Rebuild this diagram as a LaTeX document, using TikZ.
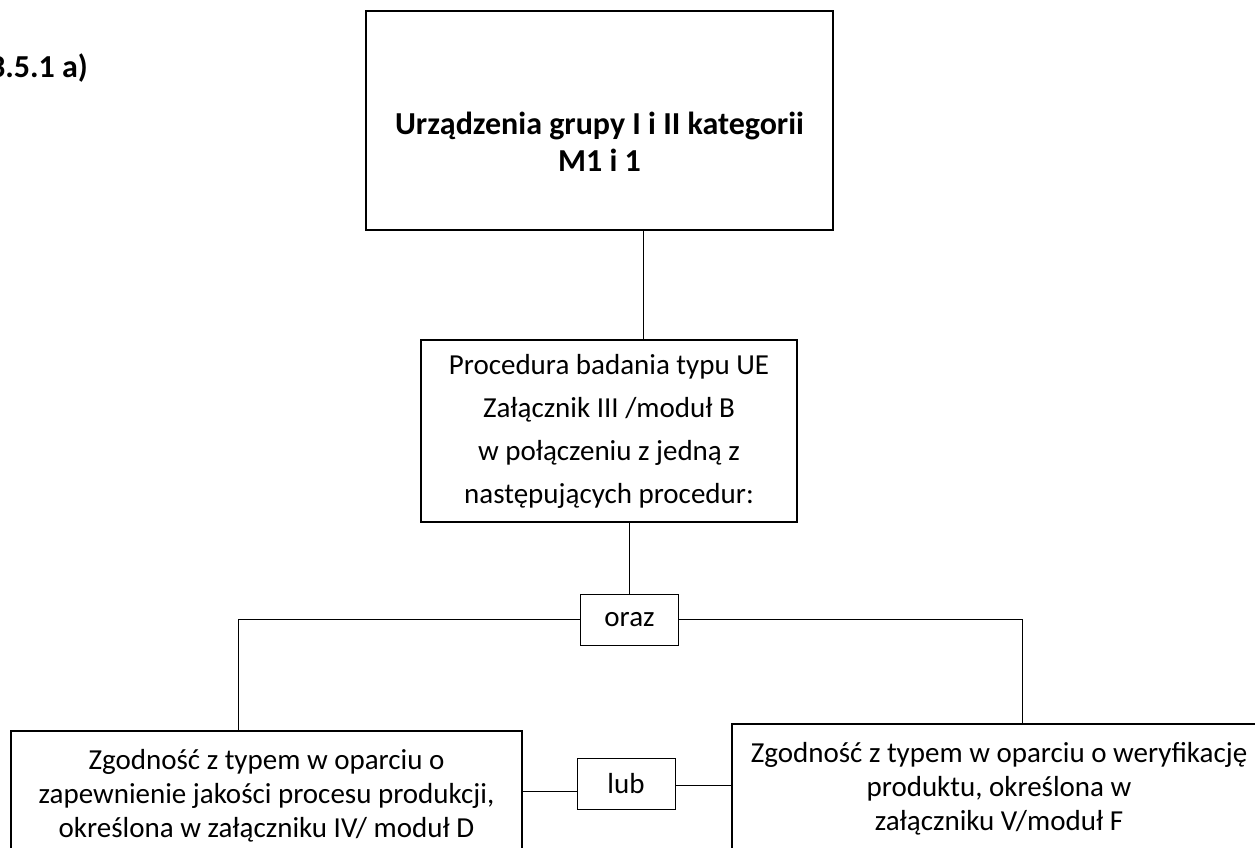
\documentclass[tikz,border=0pt]{standalone}
\usepackage{fontspec}
\setmainfont{Carlito}
\usetikzlibrary{positioning}

\tikzset{
  heavybox/.style={draw, line width=2pt, inner sep=0pt},
  plainbox/.style={draw, line width=1.4pt, inner sep=0pt},
  smallbox/.style={draw, line width=1pt, inner sep=0pt, minimum width=98, minimum height=51},
  link/.style={line width=1pt},
  boldtext/.style={font=\fontsize{32}{37}\selectfont\bfseries, align=center, inner sep=0pt},
  bodytext/.style={font=\fontsize{29}{34}\selectfont, align=center},
}

\begin{document}
\begin{tikzpicture}[x=1pt, y=-1pt]
        \useasboundingbox (0,0) rectangle (1255,848);

        \node[boldtext, anchor=base east] (section) at (88,78) {3.5.1 a)};

        \node[heavybox, minimum width=467, minimum height=219] (devices) at (599.5,120.5) {};
        \node[boldtext] (devicestext) at (599.5,142) {Urządzenia grupy I i II kategorii\\M1 i 1};

        \node[plainbox, minimum width=376, minimum height=182, font=\fontsize{29}{43}\selectfont, align=center]
            (procedure) at (609,431) {Procedura badania typu UE\\Załącznik III /moduł B\\w połączeniu z jedną z\\następujących procedur:};

        \node[smallbox, bodytext] (oraz) at (629.5,619.5) {oraz};
        \node[smallbox, bodytext] (lub) at (626,783.5) {lub};

        \node[heavybox, bodytext, minimum width=511, minimum height=130] (lefttype) at (266.5,796)
            {Zgodność z typem w oparciu o\\zapewnienie jakości procesu produkcji,\\określona w załączniku IV/ moduł D};
        \node[heavybox, bodytext, minimum width=534, minimum height=130] (righttype) at (999,789)
            {Zgodność z typem w oparciu o weryfikację\\produktu, określona w\\załączniku V/moduł F};

        \coordinate (topdrop) at (643,0);
        \coordinate (leftdrop) at (238,0);
        \coordinate (rightdrop) at (1022,0);

        \draw[link] (devices.south -| topdrop) -- (procedure.north -| topdrop);
        \draw[link] (procedure.south -| oraz.north) -- (oraz.north);
        \draw[link] (oraz.west) -| (leftdrop |- lefttype.north);
        \draw[link] (oraz.east) -| (rightdrop |- righttype.north);
        \draw[link] ([yshift=-8pt]lub.west) -- ([yshift=-8pt]lub.west -| lefttype.east);
        \draw[link] ([yshift=-2pt]lub.east) -- ([yshift=-2pt]lub.east -| righttype.west);

    \end{tikzpicture}
\end{document}
